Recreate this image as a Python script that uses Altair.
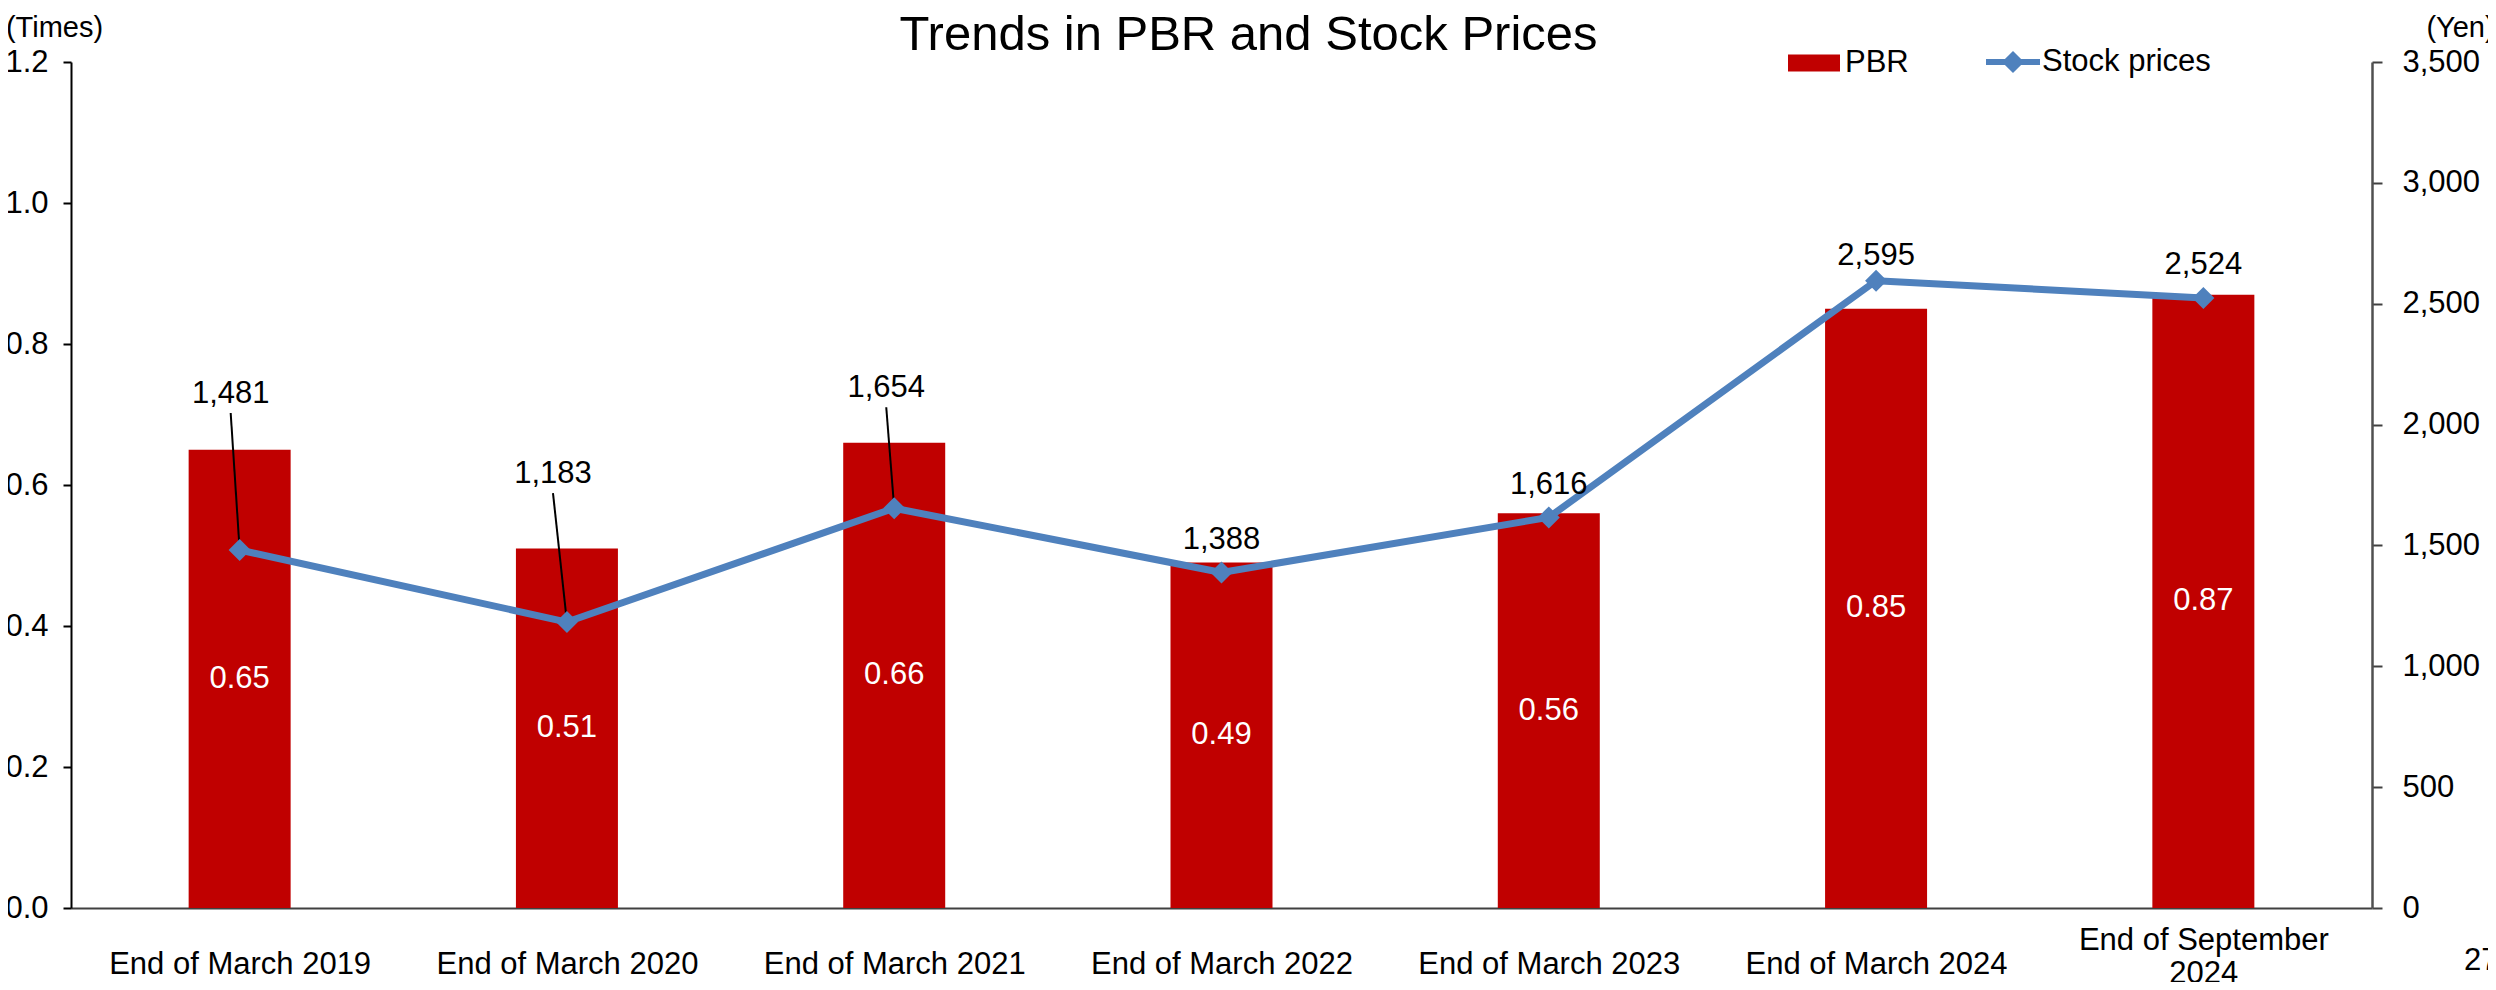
import altair as alt
import pandas as pd
import json

# ---------------- data ----------------
categories = ["End of March 2019", "End of March 2020", "End of March 2021",
              "End of March 2022", "End of March 2023", "End of March 2024",
              "End of September|2024"]
pbr = [0.65, 0.51, 0.66, 0.49, 0.56, 0.85, 0.87]
price = [1481, 1183, 1654, 1388, 1616, 2595, 2524]
# label placement (pixels): lift of label baseline above point, horizontal shift
label_lift = [147, 139, 111, 24, 23, 16, 24]
label_shift = [-9, -14, -8, 0, 0, 0, 0]
leader = [True, True, True, False, False, False, False]

pbr_ticks = [0, 0.2, 0.4, 0.6, 0.8, 1.0, 1.2]
price_ticks = [0, 500, 1000, 1500, 2000, 2500, 3000, 3500]
page_number = "27"

# ---------------- layout ----------------
FONT = "Liberation Sans"
PLOT_W = 2301
PLOT_H = 846
N = len(categories)
BAND = PLOT_W / N
PRICE_MAX = 3500
YEN_PER_PX = PRICE_MAX / PLOT_H
BAR_COLOR = "#C00000"
LINE_COLOR = "#4F81BD"

df = pd.DataFrame({
    "idx": list(range(N)),
    "cat": categories,
    "pbr": pbr,
    "price": price,
    "lift": label_lift,
    "shift": label_shift,
    "leader": leader,
})

label_expr = "split(" + json.dumps(categories) + "[datum.value], '|')"
multi_test = "indexof(" + json.dumps(categories) + "[datum.value], '|') >= 0"

base = alt.Chart(df)

xscale = alt.Scale(domain=[-0.5, N - 0.5], nice=False, zero=False)
x_axis = alt.Axis(values=list(range(N)), labelExpr=label_expr, ticks=False,
                  labelPadding={"condition": {"test": multi_test, "value": 41}, "value": 65},
                  labelBaseline="alphabetic", labelLineHeight=33,
                  labelFontSize=31, labelFont=FONT, labelColor="black", labelLimit=800,
                  labelFlush=False, labelOverlap=False, labelBound=False,
                  labelAlign="center", domainColor="#404040", domainWidth=2,
                  title="", grid=False)

left_axis = alt.Axis(orient="left", values=pbr_ticks, format=".1f",
                     tickSize=8, tickColor="black", tickWidth=2,
                     labelPadding=15, labelFontSize=31, labelFont=FONT,
                     labelColor="black", domainColor="black", domainWidth=2,
                     grid=False, title="(Times)", titleAngle=0,
                     titleX=-17, titleY=-35, titleAlign="center",
                     titleBaseline="middle", titleFontSize=29,
                     titleFont=FONT, titleFontWeight="normal",
                     titleColor="black")

right_axis = alt.Axis(orient="right", values=price_ticks, format=",.0f",
                      tickSize=10, tickColor="#404040", tickWidth=2,
                      labelPadding=20, labelFontSize=31, labelFont=FONT,
                      labelColor="black", domainColor="#505050",
                      domainWidth=2.5, grid=False, title="(Yen)",
                      titleAngle=0, titleX=88, titleY=-35,
                      titleAlign="center", titleBaseline="middle",
                      titleFontSize=29, titleFont=FONT,
                      titleFontWeight="normal", titleColor="black")

X = lambda f: alt.X(f, type="quantitative", scale=xscale, axis=x_axis)
YL = lambda f: alt.Y(f, type="quantitative", scale=alt.Scale(domain=[0, 1.2], nice=False), axis=left_axis)
YR = lambda f: alt.Y(f, type="quantitative", scale=alt.Scale(domain=[0, PRICE_MAX], nice=False), axis=right_axis)

bars = base.transform_calculate(s1="'PBR'").mark_bar(size=102).encode(
    x=X("idx"),
    y=YL("pbr"),
    color=alt.Color("s1:N", scale=alt.Scale(domain=["PBR"], range=[BAR_COLOR]),
                    legend=alt.Legend(title=None, orient="none", legendX=1717,
                                      legendY=-25, symbolType="M-1,-0.33H1V0.33H-1Z",
                                      symbolSize=2704, symbolStrokeWidth=0,
                                      labelFontSize=31, labelFont=FONT, labelLimit=500,
                                      labelColor="black", labelOffset=5, padding=0)),
)

bar_text = base.transform_calculate(mid="datum.pbr / 2").mark_text(
    font=FONT, fontSize=31, color="white", baseline="middle", align="center"
).encode(
    x=X("idx"),
    y=YL("mid"),
    text=alt.Text("pbr:Q", format=".2f"),
)

left = alt.layer(bars, bar_text)

line = base.mark_line(color=LINE_COLOR, strokeWidth=7, strokeJoin="round").encode(
    x=X("idx"),
    y=YR("price"),
)

points = base.transform_calculate(s2="'Stock prices'").mark_point(
    shape="diamond", size=484, filled=True, opacity=1
).encode(
    x=X("idx"),
    y=YR("price"),
    color=alt.Color("s2:N", scale=alt.Scale(domain=["Stock prices"], range=[LINE_COLOR]),
                    legend=alt.Legend(title=None, orient="none", legendX=1915,
                                      legendY=-27,
                                      symbolType="M-1,-0.11H1V0.11H-1Z M0,-0.41L0.41,0L0,0.41L-0.41,0Z",
                                      symbolSize=2916, symbolStrokeWidth=0,
                                      labelFontSize=31, labelFont=FONT, labelLimit=500,
                                      labelColor="black", labelOffset=2, padding=0)),
)

price_labels = base.transform_calculate(
    lx=f"datum.idx + datum.shift / {BAND}",
    ly=f"datum.price + datum.lift * {YEN_PER_PX}",
).mark_text(font=FONT, fontSize=31, color="black", align="center",
            baseline="alphabetic").encode(
    x=X("lx"),
    y=YR("ly"),
    text=alt.Text("price:Q", format=","),
)

leaders = base.transform_filter("datum.leader").transform_calculate(
    lx=f"datum.idx + datum.shift / {BAND}",
    ltop=f"datum.price + (datum.lift - 10) * {YEN_PER_PX}",
).mark_rule(color="black", strokeWidth=2).encode(
    x=X("lx"),
    x2="idx:Q",
    y=YR("ltop"),
    y2="price:Q",
)

page = alt.Chart(pd.DataFrame({"t": [page_number]})).mark_text(
    font=FONT, fontSize=31, color="black", align="left", baseline="alphabetic"
).encode(x=alt.value(2393), y=alt.value(908), text="t:N")

right = alt.layer(line, leaders, points, price_labels, page)

chart = alt.layer(left, right).resolve_scale(y="independent", color="independent").properties(
    width=PLOT_W,
    height=PLOT_H,
    autosize=alt.AutoSizeParams(type="none"),
    padding={"left": 63, "top": 54, "right": 116, "bottom": 74},
    title=alt.TitleParams("Trends in PBR and Stock Prices", fontSize=49, font=FONT,
                          fontWeight="normal", color="black", anchor="middle",
                          frame="group", dx=27, offset=-86, baseline="alphabetic"),
).configure(background="white").configure_view(strokeWidth=0)

chart.save("out.html", embed_options={"renderer": "svg", "actions": False})
